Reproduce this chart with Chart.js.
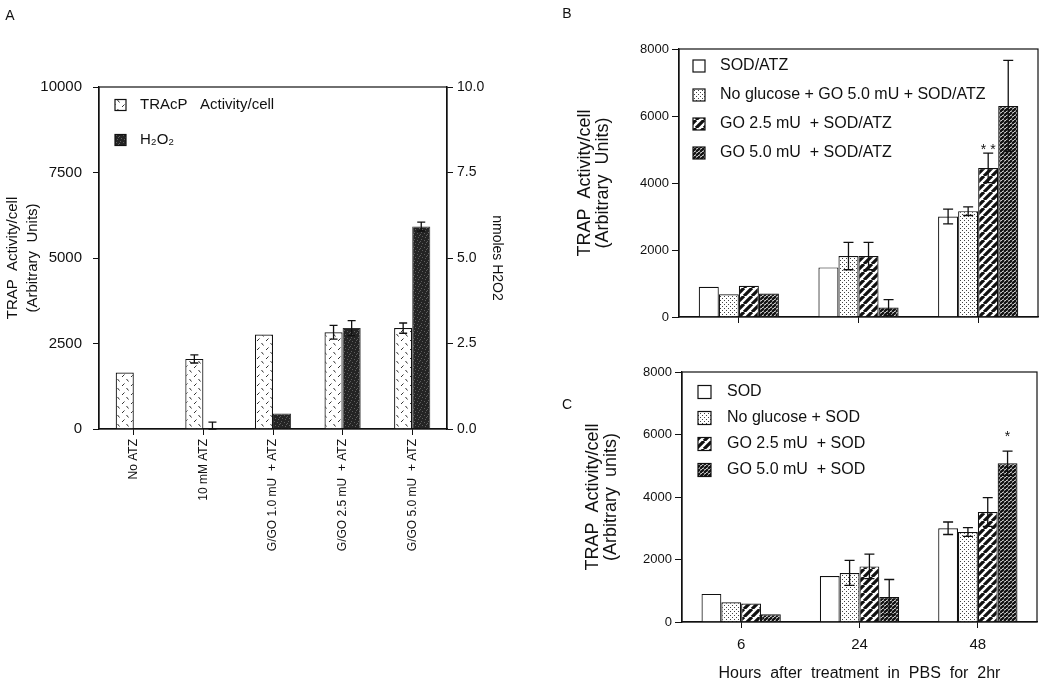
<!DOCTYPE html>
<html>
<head>
<meta charset="utf-8">
<script src="https://cdn.jsdelivr.net/npm/chart.js@4.4.1/dist/chart.umd.min.js"></script>
<style>
  html,body{margin:0;padding:0;background:#fff;}
  #wrap{position:relative;width:1050px;height:689px;overflow:hidden;}
  canvas{position:absolute;}
</style>
</head>
<body>
<div id="wrap">
  <canvas id="chartA" width="530" height="689" style="left:0;top:0;width:530px;height:689px"></canvas>
  <canvas id="chartB" width="490" height="345" style="left:560px;top:0;width:490px;height:345px"></canvas>
  <canvas id="chartC" width="490" height="344" style="left:560px;top:345px;width:490px;height:344px"></canvas>
</div>
<script>
// ===================== DATA =====================
// Panel A
const aCategories = ['No ATZ','10 mM ATZ','G/GO 1.0 mU  + ATZ','G/GO 2.5 mU  + ATZ','G/GO 5.0 mU  + ATZ'];
const aTrap    = [1650, 2050, 2760, 2830, 2950];
const aTrapErr = [0, 120, 0, 200, 150];
const aH2o2    = [null, 0, 0.45, 2.95, 5.92];
const aH2o2Err = [0, 0.2, 0, 0.22, 0.13];
const aLeftTicks  = [0, 2500, 5000, 7500, 10000];
const aRightTicks = [0, 2.5, 5, 7.5, 10];

// Panel B (SOD/ATZ)
const hours = ['6','24','48'];
const bSod      = [900, 1480, 3000];   const bSodErr   = [0, 0, 220];
const bNoGlu    = [680, 1820, 3160];   const bNoGluErr = [0, 410, 130];
const bGo25     = [930, 1820, 4450];   const bGo25Err  = [0, 410, 440];
const bGo50     = [700, 280, 6300];    const bGo50Err  = [0, 240, 1360];
const bGo25Star = ['', '', '* *'];

// Panel C (SOD)
const cSod      = [900, 1470, 3000];   const cSodErr   = [0, 0, 200];
const cNoGlu    = [630, 1570, 2880];   const cNoGluErr = [0, 400, 140];
const cGo25     = [590, 1780, 3520];   const cGo25Err  = [0, 390, 460];
const cGo50     = [250, 800, 5080];    const cGo50Err  = [0, 560, 390];
const cGo50Star = ['', '', '*'];
const trapTicks = [0, 2000, 4000, 6000, 8000];

const FONT = '"Liberation Sans", Arial, Helvetica, sans-serif';
const INK = '#111';

// ===================== PATTERNS =====================
function makePattern(size, bg, draw){
  const c = document.createElement('canvas'); c.width = c.height = size;
  const g = c.getContext('2d');
  g.fillStyle = bg; g.fillRect(0,0,size,size);
  draw(g,size);
  return g.createPattern(c,'repeat');
}
function stripes(p, lw){
  return makePattern(p,'#fff',(g)=>{
    g.strokeStyle = INK; g.lineWidth = lw;
    g.beginPath();
    [-p,0,p].forEach(k=>{ g.moveTo(k,p); g.lineTo(k+p,0); });
    g.stroke();
  });
}
const patDash = makePattern(9,'#fff',(g)=>{
  g.strokeStyle='#333'; g.lineWidth=1;
  g.beginPath(); g.moveTo(0.5,1); g.lineTo(2.5,3.5); g.moveTo(5,8); g.lineTo(7.5,5.5); g.stroke();
});
const patDark = makePattern(7,'#242424',(g)=>{
  g.fillStyle='#5e5e5e';
  [[1,1],[4,2],[2,5],[6,4],[5,6],[0,3]].forEach(([x,y])=>g.fillRect(x,y,1,1));
});
const patDots = makePattern(4,'#fff',(g)=>{
  g.fillStyle='#444'; g.fillRect(0,0,1,1); g.fillRect(2,2,1,1);
});
const patBold = stripes(8, 3.2);
const patFine = stripes(4, 2.3);

// ===================== PLUGINS =====================
// frame around the plot area
const framePlugin = {
  id:'frame',
  afterDraw(chart){
    const {ctx, chartArea:a} = chart;
    ctx.save(); ctx.strokeStyle=INK; ctx.lineWidth=1.2;
    ctx.strokeRect(a.left, a.top, a.right-a.left, a.bottom-a.top);
    ctx.restore();
  }
};

// error bars + significance stars, read from dataset.errors / dataset.stars
const errorPlugin = {
  id:'errBars',
  afterDatasetsDraw(chart, args, opts){
    const ctx = chart.ctx;
    ctx.save();
    ctx.strokeStyle = INK; ctx.lineWidth = 1.3; ctx.fillStyle = INK;
    chart.data.datasets.forEach((ds,i)=>{
      const meta = chart.getDatasetMeta(i);
      const scale = chart.scales[meta.yAxisID];
      ds.data.forEach((v,j)=>{
        const e = (ds.errors||[])[j]||0;
        if(v===null) return;
        const x = meta.data[j].x;
        const yTop = scale.getPixelForValue(v+e);
        if(e>0){
          const yBot = scale.getPixelForValue(Math.max(0,v-e));
          const hw = opts.cap/2;
          ctx.beginPath();
          ctx.moveTo(x,yTop); ctx.lineTo(x,yBot);
          ctx.moveTo(x-hw,yTop); ctx.lineTo(x+hw,yTop);
          ctx.moveTo(x-hw,yBot); ctx.lineTo(x+hw,yBot);
          ctx.stroke();
        }
        const star = (ds.stars||[])[j];
        if(star){
          ctx.font = `14px ${FONT}`; ctx.textAlign='center'; ctx.textBaseline='alphabetic';
          ctx.fillText(star, x, yTop - opts.starGap);
        }
      });
    });
    ctx.restore();
  }
};

// legend drawn inside the plot, boxes filled with the dataset pattern
const boxLegendPlugin = {
  id:'boxLegend',
  afterDraw(chart, args, opts){
    const ctx = chart.ctx;
    ctx.save();
    chart.data.datasets.forEach((ds,i)=>{
      const y = opts.y + i*opts.dy;
      ctx.fillStyle = ds.backgroundColor;
      ctx.fillRect(opts.x, y-opts.size/2, opts.size, opts.size);
      ctx.strokeStyle = INK; ctx.lineWidth = 1.2;
      ctx.strokeRect(opts.x, y-opts.size/2, opts.size, opts.size);
      ctx.fillStyle = INK; ctx.font = `${opts.fontSize}px ${FONT}`;
      ctx.textAlign='left'; ctx.textBaseline='middle';
      ctx.fillText(ds.label, opts.textX, y);
    });
    if(opts.tag){
      ctx.font = `14px ${FONT}`; ctx.textAlign='center';
      ctx.fillText(opts.tag.text, opts.tag.x, opts.tag.y);
    }
    ctx.restore();
  }
};

// ── helpers for fixed axis boxes ──
const fixW = w => s => { s.width = w; };
const fixH = h => s => { s.height = h; };
const blackGrid = len => ({drawOnChartArea:false, color:INK, lineWidth:1, tickLength:len, offset:false});
const border = {color:INK, width:1.3};
const plain = v => String(v);

// ===================== PANEL A =====================
new Chart(document.getElementById('chartA').getContext('2d'),{
  type:'bar',
  data:{labels:aCategories, datasets:[
    {label:'TRAcP   Activity/cell', data:aTrap, errors:aTrapErr, yAxisID:'y',
     backgroundColor:patDash, borderColor:INK, borderWidth:1.2},
    {label:'H₂O₂', data:aH2o2, errors:aH2o2Err, yAxisID:'y2',
     backgroundColor:patDark, borderColor:'#333', borderWidth:1}
  ]},
  options:{responsive:false, animation:false,
    layout:{padding:{top:87,left:0,right:0,bottom:0}},
    datasets:{bar:{categoryPercentage:0.52, barPercentage:1}},
    plugins:{legend:{display:false}, tooltip:{enabled:false},
      errBars:{cap:8, starGap:0},
      boxLegend:{x:115, y:105, dy:35, size:11, textX:140, fontSize:15, tag:{text:'A', x:10, y:16}}},
    scales:{
      x:{afterFit:fixH(260), border, grid:blackGrid(6),
         ticks:{color:INK, autoSkip:false, minRotation:90, maxRotation:90, padding:4, font:{family:FONT,size:12}}},
      y:{position:'left', min:0, max:10000, afterFit:fixW(99), border, grid:blackGrid(6),
         afterBuildTicks:s=>{ s.ticks = aLeftTicks.map(v=>({value:v})); },
         ticks:{color:INK, padding:11, font:{family:FONT,size:15}, callback:plain},
         title:{display:true, text:['TRAP  Activity/cell','(Arbitrary  Units)'], color:INK,
                padding:{top:3,bottom:0}, font:{family:FONT,size:15,lineHeight:1.333}}},
      y2:{position:'right', min:0, max:10, afterFit:fixW(83), border, grid:blackGrid(6),
         afterBuildTicks:s=>{ s.ticks = aRightTicks.map(v=>({value:v})); },
         ticks:{color:INK, padding:4, font:{family:FONT,size:14}, callback:v=>v.toFixed(1)},
         title:{display:true, text:'nmoles H2O2', color:INK,
                padding:{top:25,bottom:0}, font:{family:FONT,size:14}}}
    }},
  plugins:[framePlugin, errorPlugin, boxLegendPlugin]
});

// ===================== PANELS B / C =====================
function trapPanel(id, sets, o){
  return new Chart(document.getElementById(id).getContext('2d'),{
    type:'bar',
    data:{labels:hours, datasets:sets.map(s=>({borderColor:INK, borderWidth:1.2, ...s}))},
    options:{responsive:false, animation:false,
      layout:{padding:{top:o.top,left:0,right:o.right,bottom:0}},
      datasets:{bar:{categoryPercentage:0.67, barPercentage:1}},
      plugins:{legend:{display:false}, tooltip:{enabled:false},
        errBars:{cap:10, starGap:o.starGap},
        boxLegend:o.legend},
      scales:{
        x:{afterFit:fixH(o.xH), border, grid:blackGrid(6),
           ticks:{color:INK, padding:8, font:{family:FONT,size:15}, callback:o.xLabels ? (v,i)=>hours[i] : ()=>''},
           title:o.xTitle||{display:false}},
        y:{min:0, max:8000, afterFit:fixW(o.yW), border, grid:blackGrid(7),
           afterBuildTicks:s=>{ s.ticks = trapTicks.map(v=>({value:v})); },
           ticks:{color:INK, padding:3, font:{family:FONT,size:13}, callback:plain},
           title:{display:true, text:['TRAP  Activity/cell', o.unitsLabel], color:INK,
                  padding:{top:o.titlePad,bottom:0}, font:{family:FONT,size:18,lineHeight:1}}}
      }},
    plugins:[framePlugin, errorPlugin, boxLegendPlugin]
  });
}

trapPanel('chartB',[
  {label:'SOD/ATZ', data:bSod, errors:bSodErr, backgroundColor:'#fff'},
  {label:'No glucose + GO 5.0 mU + SOD/ATZ', data:bNoGlu, errors:bNoGluErr, backgroundColor:patDots},
  {label:'GO 2.5 mU  + SOD/ATZ', data:bGo25, errors:bGo25Err, stars:bGo25Star, backgroundColor:patBold},
  {label:'GO 5.0 mU  + SOD/ATZ', data:bGo50, errors:bGo50Err, backgroundColor:patFine}
],{top:49, right:12, xH:28, yW:119, titlePad:16, starGap:-1, xLabels:false,
  unitsLabel:'(Arbitrary  Units)',
  legend:{x:133, y:66, dy:29, size:12, textX:160, fontSize:16, tag:{text:'B', x:7, y:14}}});

trapPanel('chartC',[
  {label:'SOD', data:cSod, errors:cSodErr, backgroundColor:'#fff'},
  {label:'No glucose + SOD', data:cNoGlu, errors:cNoGluErr, backgroundColor:patDots},
  {label:'GO 2.5 mU  + SOD', data:cGo25, errors:cGo25Err, backgroundColor:patBold},
  {label:'GO 5.0 mU  + SOD', data:cGo50, errors:cGo50Err, stars:cGo50Star, backgroundColor:patFine}
],{top:27, right:13, xH:67, yW:122, titlePad:24, starGap:10, xLabels:true,
  unitsLabel:'(Arbitrary  units)',
  xTitle:{display:true, text:'Hours  after  treatment  in  PBS  for  2hr', color:INK,
          padding:{top:0,bottom:6}, font:{family:FONT,size:16}},
  legend:{x:138, y:47, dy:26, size:13, textX:167, fontSize:16, tag:{text:'C', x:7, y:60}}});
</script>
</body>
</html>
